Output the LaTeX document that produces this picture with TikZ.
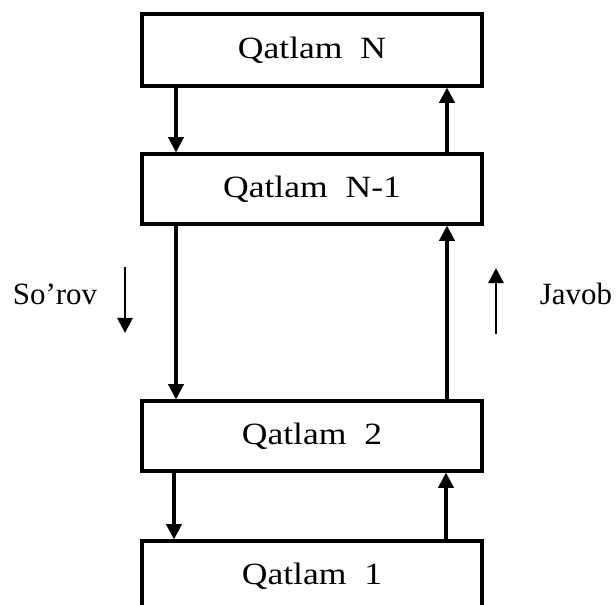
\documentclass[tikz,border=0pt]{standalone}
\usepackage{fontspec}
\setmainfont{Liberation Serif}
\newfontfamily\layerfont[FakeStretch=1.15]{Liberation Serif}
\usetikzlibrary{arrows.meta}
\tikzstyle{layer}=[rectangle,
                   draw=black,
                   line width=2.3pt,
                   text centered,
                   minimum width=8.5cm,
                   minimum height=1.75cm,
                   font=\layerfont\fontsize{22}{26}\selectfont
                  ]
\tikzstyle{flow}=[line width=2.3pt, -{Triangle[length=3.8mm, width=3.8mm]}]
\tikzstyle{side}=[inner sep=0pt, anchor=base, font=\fontsize{22}{26}\selectfont]

\begin{document}
\begin{tikzpicture}
  \useasboundingbox (0cm, 0cm) rectangle (15.4cm, 15.125cm);

  \node at (7.8cm, 13.875cm) (lN) [layer, minimum height=1.8cm] {Qatlam~~N};
  \node at (7.8cm, 10.4cm) (lN1) [layer] {Qatlam~~N-1};
  \node at (7.8cm, 4.225cm) (l2) [layer] {Qatlam~~2};
  \node at (7.8cm, 0.725cm) (l1) [layer] {Qatlam~~1};

\draw[flow] ([xshift=-3.4cm]lN.south) -- ([xshift=-3.4cm]lN1.north);
  \draw[flow] ([xshift=3.375cm]lN1.north) -- ([xshift=3.375cm]lN.south);

\draw[flow] ([xshift=-3.4cm]lN1.south) -- ([xshift=-3.4cm]l2.north);
  \draw[flow] ([xshift=3.375cm]l2.north) -- ([xshift=3.375cm]lN1.south);

\draw[flow] ([xshift=-3.45cm]l2.south) -- ([xshift=-3.45cm]l1.north);
  \draw[flow] ([xshift=3.35cm]l1.north) -- ([xshift=3.35cm]l2.south);

\node at (1.375cm, 7.5cm) (req) [side] {So’rov};
\node at (14.4cm, 7.5cm) (resp) [side] {Javob};
  \coordinate (reqa) at (3.125cm, 8.45cm);
  \coordinate (reqb) at (3.125cm, 6.8cm);
  \coordinate (respa) at (12.4cm, 6.775cm);
  \coordinate (respb) at (12.4cm, 8.425cm);
  \draw[flow, line width=2pt] (reqa) -- (reqb);
  \draw[flow, line width=2pt] (respa) -- (respb);
\end{tikzpicture}
\end{document}
